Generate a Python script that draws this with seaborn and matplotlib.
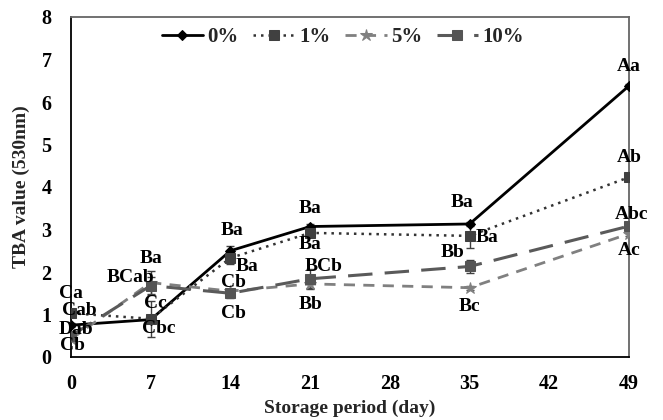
import matplotlib
matplotlib.use("Agg")
import matplotlib.pyplot as plt
import seaborn as sns
import pandas as pd

# ---- data ----
days = [0, 7, 14, 21, 35, 49]
series_names = ["0%", "1%", "5%", "10%"]
tba_0 = [0.75, 0.88, 2.50, 3.07, 3.13, 6.38]
tba_1 = [1.03, 0.90, 2.33, 2.92, 2.85, 4.23]
tba_5 = [0.42, 1.75, 1.55, 1.72, 1.63, 2.90]
tba_10 = [0.50, 1.68, 1.50, 1.84, 2.13, 3.08]
err_0 = [0.04, 0.05, 0.12, 0.05, 0.05, 0.05]
err_1 = [0.05, 0.42, 0.15, 0.05, 0.28, 0.05]
err_5 = [0.05, 0.28, 0.05, 0.10, 0.05, 0.05]
err_10 = [0.05, 0.20, 0.10, 0.24, 0.15, 0.05]
labels_0 = ["Cab", "Cbc", "Ba", "Ba", "Ba", "Aa"]
labels_1 = ["Ca", "Cc", "Ba", "Ba", "Ba", "Ab"]
labels_5 = ["Cb", "Ba", "Cb", "Bb", "Bc", "Ac"]
labels_10 = ["Dab", "BCab", "Cb", "BCb", "Bb", "Abc"]
xticks = [0, 7, 14, 21, 28, 35, 42, 49]
yticks = [0, 1, 2, 3, 4, 5, 6, 7, 8]

# ---- label offsets (pixels) ----
off_0 = [(8, 15), (8, -9), (2, 20), (0, 18), (-8, 21), (0, 19)]
off_1 = [(0, 20), (5, 15), (17, -9), (0, -12), (17, -2), (0, 20)]
off_5 = [(1, -6), (0, 24), (3, -22), (0, -21), (0, -19), (0, -17)]
off_10 = [(5, 6), (-20, 8), (3, 11), (13, 12), (-17, 14), (3, 12)]

sns.set_theme(style="white")
plt.rcParams["font.family"] = ["Liberation Serif", "DejaVu Serif"]
plt.rcParams["font.weight"] = "bold"

fig = plt.figure(figsize=(6.63, 4.20), dpi=100)
ax = fig.add_axes([71 / 663, 1 - 357 / 420, (629 - 71) / 663, (357 - 17) / 420])

values = [tba_0, tba_1, tba_5, tba_10]
errs = [err_0, err_1, err_5, err_10]
labels = [labels_0, labels_1, labels_5, labels_10]
offs = [off_0, off_1, off_5, off_10]
styles = [
    dict(color="black", linestyle="-", marker="D", markersize=5, linewidth=2.0, mfc="black", mec="black"),
    dict(color="#333333", linestyle=(0, (1, 2)), marker="s", markersize=7, linewidth=1.8, mfc="#404040", mec="#404040"),
    dict(color="#808080", linestyle=(0, (4, 3)), marker="*", markersize=9, linewidth=2.0, mfc="#808080", mec="#808080"),
    dict(color="#5a5a5a", linestyle=(0, (8, 4)), marker="s", markersize=7, linewidth=2.2, mfc="#555555", mec="#555555"),
]

for name, vals, er, st in zip(series_names, values, errs, styles):
    df = pd.DataFrame({"day": days, "tba": vals})
    ax.errorbar(days, vals, yerr=er, fmt="none", ecolor="#404040", elinewidth=1.0, capsize=3, capthick=1.0, zorder=2)
    sns.lineplot(data=df, x="day", y="tba", ax=ax, label=name, zorder=3, **st)

for vals, labs, off in zip(values, labels, offs):
    for d, v, t, o in zip(days, vals, labs, off):
        ax.annotate(t, (d, v), xytext=o, textcoords="offset pixels", ha="center", va="center",
                    fontsize=14, fontweight="bold", color="black", zorder=5)

ax.set_xlim(0, 49)
ax.set_ylim(0, 8)
ax.set_xticks(xticks)
ax.set_yticks(yticks)
ax.tick_params(axis="both", direction="in", length=5, width=1, labelsize=14.5, colors="black")
ax.tick_params(axis="y", pad=14)
ax.tick_params(axis="x", pad=12)
for lab in ax.get_xticklabels() + ax.get_yticklabels():
    lab.set_fontweight("bold")
ax.set_xlabel("Storage period (day)", fontsize=14, fontweight="bold", labelpad=4)
ax.set_ylabel("TBA value (530nm)", fontsize=14, fontweight="bold", labelpad=8)

for s in ["left", "bottom"]:
    ax.spines[s].set_color("black")
    ax.spines[s].set_linewidth(1.3)
for s in ["top", "right"]:
    ax.spines[s].set_color("#666666")
    ax.spines[s].set_linewidth(1.3)

leg = ax.legend(loc="center", bbox_to_anchor=(0.487, 0.941), ncol=4, frameon=False,
                handlelength=2.0, handletextpad=0.2, columnspacing=0.7,
                prop={"weight": "bold", "size": 15})

fig.savefig("out.png", dpi=100)
